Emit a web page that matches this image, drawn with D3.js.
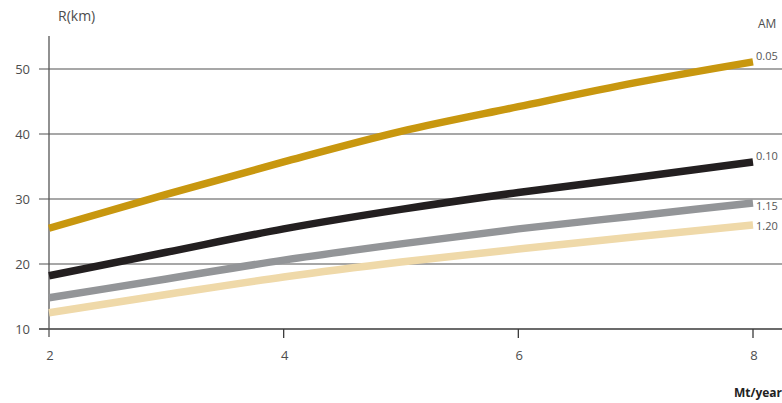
<!DOCTYPE html>
<html><head><meta charset="utf-8">
<script src="https://cdn.jsdelivr.net/npm/d3@7"></script>
<style>body{margin:0;background:#fff}svg{display:block}</style>
</head><body>
<svg id="c" width="782" height="403"></svg>
<script>
const xTicks = [2, 4, 6, 8];
const yTicks = [10, 20, 30, 40, 50];
const xs = [2, 3, 4, 5, 6, 7, 8];
const am005 = [25.5, 30.7, 35.7, 40.4, 44.2, 47.9, 51.1];
const am010 = [18.2, 21.8, 25.4, 28.4, 31.0, 33.3, 35.7];
const am115 = [14.8, 17.7, 20.6, 23.1, 25.4, 27.4, 29.4];
const am120 = [12.5, 15.3, 18.0, 20.3, 22.3, 24.2, 26.0];
const seriesNames = ["0.05", "0.10", "1.15", "1.20"];
const seriesColors = ["#c8970f", "#231f20", "#939598", "#efd9a9"];

const svg = d3.select("#c");
const font = "'Open Sans', sans-serif";
const x = d3.scaleLinear().domain([2, 8]).range([49, 753]);
const y = d3.scaleLinear().domain([10, 50]).range([329, 69]);

// grid lines
svg.append("g").selectAll("line").data(yTicks).join("line")
  .attr("x1", 39).attr("x2", 782)
  .attr("y1", d => y(d)).attr("y2", d => y(d))
  .attr("stroke", d => d === 10 ? "#3a3a3a" : "#8a8a8a").attr("stroke-width", 1.3);

// y axis line
svg.append("line").attr("x1", 49).attr("x2", 49).attr("y1", 36).attr("y2", 337)
  .attr("stroke", "#555").attr("stroke-width", 1.3);

// x ticks
svg.append("g").selectAll("line").data(xTicks.slice(1)).join("line")
  .attr("x1", d => x(d)).attr("x2", d => x(d)).attr("y1", 329).attr("y2", 338)
  .attr("stroke", "#3a3a3a").attr("stroke-width", 1.3);

// tick labels
svg.append("g").selectAll("text").data(yTicks).join("text")
  .attr("x", 30).attr("y", d => y(d) + 5).attr("text-anchor", "end")
  .attr("font-family", font).attr("font-size", 13).attr("fill", "#4d4d4d").text(d => d);
svg.append("g").selectAll("text").data(xTicks).join("text")
  .attr("x", d => x(d) + 1).attr("y", 360).attr("text-anchor", "middle")
  .attr("font-family", font).attr("font-size", 13).attr("fill", "#4d4d4d").text(d => d);

const allSeries = [am005, am010, am115, am120];
const line = d3.line().x((d, i) => x(xs[i])).y(d => y(d)).curve(d3.curveMonotoneX);
// draw from bottom to top so gold is on top
[3, 2, 1, 0].forEach(k => {
  svg.append("path").attr("d", line(allSeries[k])).attr("fill", "none")
    .attr("stroke", seriesColors[k]).attr("stroke-width", 7.5);
});
const labelDy = [-2, -2, 7, 5];
allSeries.forEach((s, k) => {
  svg.append("text").attr("x", x(8) + 3).attr("y", y(s[s.length - 1]) + labelDy[k])
    .attr("font-family", font).attr("font-size", 11).attr("fill", "#555").text(seriesNames[k]);
});

svg.append("text").attr("x", 58).attr("y", 21).attr("font-family", font).attr("font-size", 14)
  .attr("fill", "#4d4d4d").text("R(km)");
svg.append("text").attr("x", 758).attr("y", 28).attr("font-family", font).attr("font-size", 12)
  .attr("fill", "#4d4d4d").text("AM");
svg.append("text").attr("x", 782).attr("y", 397).attr("text-anchor", "end").attr("font-family", font)
  .attr("font-size", 12).attr("font-weight", "bold").attr("fill", "#222").text("Mt/year");
</script>
</body></html>
